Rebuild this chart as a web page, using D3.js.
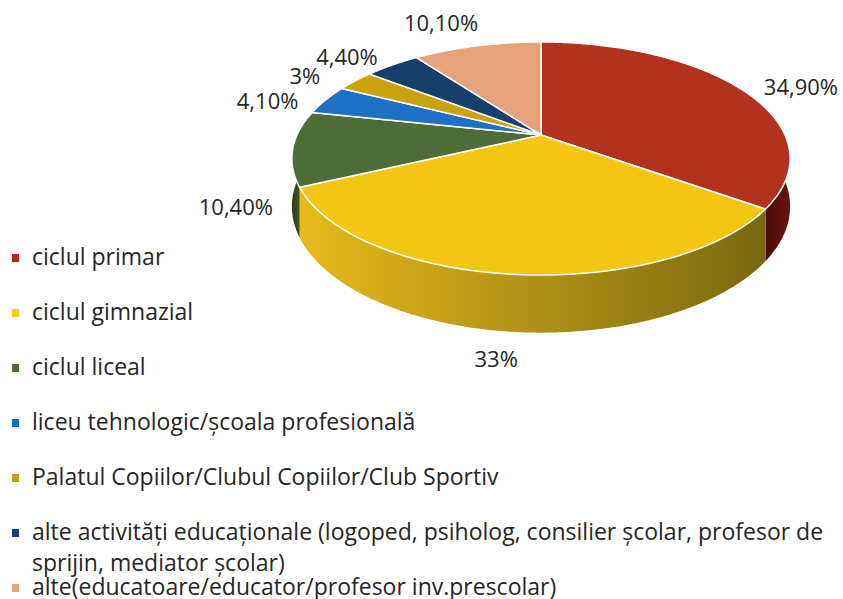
<!DOCTYPE html>
<html>
<head>
<meta charset="utf-8">
<script src="https://cdn.jsdelivr.net/npm/d3@7"></script>
<style>
  body { margin: 0; background: #fff; }
  text { font-family: "Open Sans", sans-serif; fill: #262626; }
</style>
</head>
<body>
<div id="chart"></div>
<script>
// DATA
var categories = [
    "ciclul primar",
    "ciclul gimnazial",
    "ciclul liceal",
    "liceu tehnologic/școala profesională",
    "Palatul Copiilor/Clubul Copiilor/Club Sportiv",
    "alte activități educaționale (logoped, psiholog, consilier școlar, profesor de sprijin, mediator școlar)",
    "alte(educatoare/educator/profesor inv.prescolar)"
];
var values = [34.9, 33, 10.4, 4.1, 3, 4.4, 10.1];
var valueLabels = ["34,90%", "33%", "10,40%", "4,10%", "3%", "4,40%", "10,10%"];

// STYLE
var topColors  = ["#b3321f", "#f3c614", "#4d6c37", "#1e70c4", "#c9a30f", "#173f6c", "#e6a17d"];
var sideColors = [["#6a1510", "#4a0c0a"], ["#e6ba1c", "#7a680f"], ["#3a5428", "#2a3d1c"],
                  ["#155296", "#0f3d70"], ["#9a7d0b", "#7a6308"], ["#102e50", "#0b2038"], ["#b97c5c", "#9a6449"]];
var legendColors = ["#c0231f", "#fdcc0c", "#4a6a3a", "#0f6fc6", "#c4a012", "#1b3f6e", "#eca07c"];
// label nudges relative to slice edge anchor
var labelNudge = [[61, -2], [-17, 26], [-57, 11], [-58, 0], [-50, -6], [-45, -9], [-36, -24]];

var WIDTH = 843, HEIGHT = 599;
var CX = 541, CY = 135, RX = 244, RY = 111.8, K = 0.2016, DEPTH = 46;

var svg = d3.select("#chart").append("svg")
    .attr("width", WIDTH)
    .attr("height", HEIGHT);

var defs = svg.append("defs");

// perspective projection of a point on the disc (angle clockwise from top)
function proj(phi, r, drop) {
    var u = r * Math.sin(phi), v = -r * Math.cos(phi);
    var f = 1 / (1 - K * v);
    return [CX + RX * u * f, CY + RY * v * f + (drop ? DEPTH * f : 0)];
}

function arcPoints(a0, a1, drop) {
    var pts = [];
    var n = Math.max(2, Math.ceil((a1 - a0) / 0.01));
    for (var i = 0; i <= n; i++) {
        pts.push(proj(a0 + (a1 - a0) * i / n, 1, drop));
    }
    return pts;
}

var pie = d3.pie().sort(null).value(function(d) { return d; });
var arcs = pie(values);

var line = d3.line();

// sides (front half only)
var lo = Math.PI / 2, hi = 3 * Math.PI / 2;
arcs.forEach(function(a, i) {
    var s = Math.max(a.startAngle, lo), e = Math.min(a.endAngle, hi);
    if (e <= s) return;
    var top = arcPoints(s, e, false);
    var bot = arcPoints(s, e, true).reverse();
    var x0 = d3.min(top, function(p) { return p[0]; });
    var x1 = d3.max(top, function(p) { return p[0]; });
    var g = defs.append("linearGradient")
        .attr("id", "side" + i)
        .attr("gradientUnits", "userSpaceOnUse")
        .attr("x1", i == 1 ? x1 : x0).attr("x2", i == 1 ? x0 : x1)
        .attr("y1", 0).attr("y2", 0);
    g.append("stop").attr("offset", 0).attr("stop-color", sideColors[i][1]);
    g.append("stop").attr("offset", 1).attr("stop-color", sideColors[i][0]);
    svg.append("path")
        .attr("d", line(top.concat(bot)) + "Z")
        .attr("fill", "url(#side" + i + ")");
});

// top surfaces
arcs.forEach(function(a, i) {
    var pts = [proj(0, 0, false)].concat(arcPoints(a.startAngle, a.endAngle, false));
    svg.append("path")
        .attr("d", line(pts) + "Z")
        .attr("fill", topColors[i])
        .attr("stroke", "#fff")
        .attr("stroke-width", 1.5)
        .attr("stroke-linejoin", "round");
});

// data labels
arcs.forEach(function(a, i) {
    var mid = (a.startAngle + a.endAngle) / 2;
    var front = -Math.cos(mid) > 0;
    var p = proj(mid, 1, front);
    svg.append("text")
        .attr("x", p[0] + labelNudge[i][0])
        .attr("y", p[1] + labelNudge[i][1])
        .attr("text-anchor", "middle")
        .attr("dominant-baseline", "central")
        .style("font-size", "22px")
        .text(valueLabels[i]);
});

// legend
var legend = svg.append("g");
var legendY = d3.scaleLinear().domain([0, 1]).range([258, 313]);
categories.forEach(function(c, i) {
    var y = legendY(i);
    legend.append("rect")
        .attr("x", 12).attr("y", y - 4)
        .attr("width", 7).attr("height", 8)
        .attr("fill", legendColors[i]);
    var t = legend.append("text")
        .attr("x", 32).attr("y", y + 7)
        .style("font-size", "23px");
    // wrap long entries
    var words = c.split(" "), lineWords = [], lineNo = 0;
    var ts = t.append("tspan").attr("x", 32).attr("y", y + 7);
    words.forEach(function(w) {
        lineWords.push(w);
        ts.text(lineWords.join(" "));
        if (ts.node().getComputedTextLength() > 795 && lineWords.length > 1) {
            lineWords.pop();
            ts.text(lineWords.join(" "));
            lineWords = [w];
            lineNo++;
            ts = t.append("tspan").attr("x", 32).attr("y", y + 7 + 31 * lineNo).text(w);
        }
    });
});
</script>
</body>
</html>
